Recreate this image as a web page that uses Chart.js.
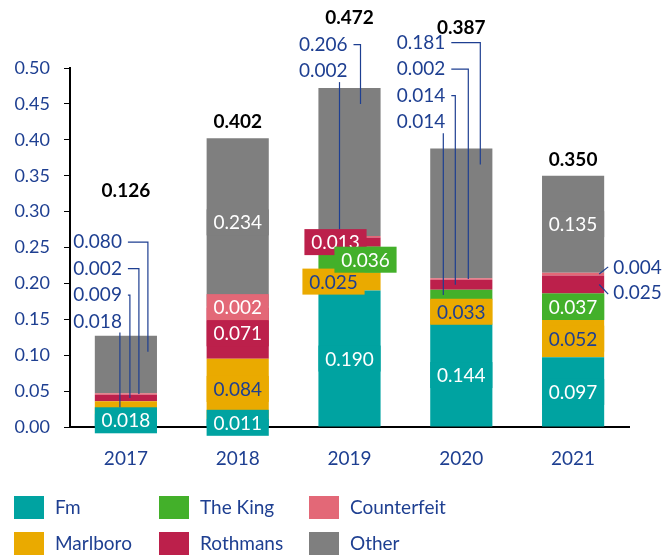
<!DOCTYPE html>
<html>
<head>
<meta charset="utf-8">
<script src="https://cdn.jsdelivr.net/npm/chart.js@4.4.0/dist/chart.umd.min.js"></script>
<style>
  html, body { margin: 0; padding: 0; background: #fff; }
  #wrap { width: 669px; height: 557px; }
</style>
</head>
<body>
<div id="wrap"><canvas id="chart" width="669" height="557"></canvas></div>
<script>
// dữ liệu
const years = ['2017', '2018', '2019', '2020', '2021'];
const fm = [0.018, 0.011, 0.190, 0.144, 0.097];
const marlboro = [0.018, 0.084, 0.025, 0.033, 0.052];
const theKing = [0, 0, 0.036, 0.014, 0.037];
const rothmans = [0.009, 0.071, 0.013, 0.014, 0.025];
const counterfeit = [0.002, 0.002, 0.002, 0.002, 0.004];
const other = [0.080, 0.234, 0.206, 0.181, 0.135];
const totals = [0.126, 0.402, 0.472, 0.387, 0.350];
const yTicks = [0, 0.05, 0.10, 0.15, 0.20, 0.25, 0.30, 0.35, 0.40, 0.45, 0.50];

const BLUE = '#1E3F91';
const FONT = 'Lato, "Noto Sans", sans-serif';
const seriesNames = ['Fm', 'Marlboro', 'The King', 'Rothmans', 'Counterfeit', 'Other'];
const seriesColors = ['#00A3A1', '#EAAA00', '#43B02A', '#BC204B', '#E36877', '#7F7F7F'];
const seriesText = ['#fff', BLUE, '#fff', '#fff', '#fff', '#fff'];

// cách hiển thị nhãn: box (dx), callout (hàng, vị trí đường dẫn), side
const labelMode = [
  [{ t: 'box' }, { t: 'box' }, { t: 'box' }, { t: 'box' }, { t: 'box' }],
  [{ t: 'call', row: 0, lx: -6 }, { t: 'box' }, { t: 'box', dx: -16 }, { t: 'box' }, { t: 'box' }],
  [null, null, { t: 'box', dx: 16 }, { t: 'call', row: 0, lx: -18 }, { t: 'box' }],
  [{ t: 'call', row: 1, lx: 4 }, { t: 'box' }, { t: 'box', dx: -14 }, { t: 'call', row: 1, lx: -6 }, { t: 'side', dy: 8 }],
  [{ t: 'call', row: 2, lx: 13 }, { t: 'box' }, { t: 'call', row: 0, lx: -10 }, { t: 'call', row: 2, lx: 7 }, { t: 'side', dy: -6 }],
  [{ t: 'call', row: 3, lx: 22, top: true }, { t: 'box' }, { t: 'call', row: 1, lx: 11, top: true }, { t: 'call', row: 3, lx: 19, top: true }, { t: 'box' }]
];
const boxOrder = [0, 1, 3, 4, 5, 2]; // The King vẽ sau cùng
const calloutTx = [-4, 0, -2, -16, 0];
const calloutBase = [-15, 0, -17, -27, 0];
const totalDy = [-146, -16, -70, -121, -16];

const labelPlugin = {
  id: 'labelPlugin',
  afterDatasetsDraw(chart) {
    const ctx = chart.ctx;
    const y = chart.scales.y;
    ctx.save();
    ctx.font = '19px ' + FONT;
    ctx.textBaseline = 'middle';

    // đường dẫn callout
    ctx.strokeStyle = BLUE;
    ctx.lineWidth = 1.2;
    chart.data.datasets.forEach((ds, di) => {
      const meta = chart.getDatasetMeta(di);
      meta.data.forEach((bar, i) => {
        const m = labelMode[di][i];
        if (!m || ds.data[i] === 0) return;
        const cx = bar.x;
        const segY = m.top ? bar.y + 16 : (bar.y + bar.base) / 2;
        if (m.t === 'call') {
          const top = y.getPixelForValue(totals[i]);
          const ty = top + calloutBase[i] - m.row * 26.5;
          const tx = cx + calloutTx[i];
          ctx.beginPath();
          if (m.lx > calloutTx[i] + 5) {
            ctx.moveTo(tx + 6, ty);
            ctx.lineTo(cx + m.lx, ty);
            ctx.lineTo(cx + m.lx, segY);
          } else {
            ctx.moveTo(cx + m.lx, ty + 11);
            ctx.lineTo(cx + m.lx, segY);
          }
          ctx.stroke();
          ctx.fillStyle = BLUE;
          ctx.textAlign = 'right';
          ctx.fillText(ds.data[i].toFixed(3), tx, ty);
        } else if (m.t === 'side') {
          const right = cx + bar.width / 2;
          const ty = segY + m.dy;
          ctx.beginPath();
          ctx.moveTo(right - 5, segY);
          ctx.lineTo(right + 4, segY + m.dy * 1.2);
          ctx.stroke();
          ctx.fillStyle = BLUE;
          ctx.textAlign = 'left';
          ctx.fillText(ds.data[i].toFixed(3), right + 9, ty);
        }
      });
    });

    // nhãn dạng hộp
    boxOrder.forEach(di => {
      const ds = chart.data.datasets[di];
      const meta = chart.getDatasetMeta(di);
      meta.data.forEach((bar, i) => {
        const m = labelMode[di][i];
        if (!m || m.t !== 'box' || ds.data[i] === 0) return;
        const cx = bar.x + (m.dx || 0);
        const cy = (bar.y + bar.base) / 2;
        const w = bar.width;
        ctx.fillStyle = seriesColors[di];
        ctx.fillRect(cx - w / 2, cy - 13, w, 26);
        ctx.fillStyle = seriesText[di];
        ctx.textAlign = 'center';
        ctx.fillText(ds.data[i].toFixed(3), cx, cy + 1);
      });
    });

    // tổng
    ctx.font = 'bold 19px ' + FONT;
    ctx.fillStyle = '#000';
    ctx.textAlign = 'center';
    chart.getDatasetMeta(0).data.forEach((bar, i) => {
      const top = y.getPixelForValue(totals[i]);
      ctx.fillText(totals[i].toFixed(3), bar.x, top + totalDy[i]);
    });

    // chú thích
    const cols = [14, 159, 309];
    const rows = [496, 532];
    ctx.font = '19px ' + FONT;
    ctx.textAlign = 'left';
    seriesNames.forEach((name, k) => {
      const c = Math.floor(k / 2), r = k % 2;
      ctx.fillStyle = seriesColors[k];
      ctx.fillRect(cols[c], rows[r], 30, 23);
      ctx.fillStyle = BLUE;
      ctx.fillText(name, cols[c] + 41, rows[r] + 12);
    });
    ctx.restore();
  }
};

const seriesData = [fm, marlboro, theKing, rothmans, counterfeit, other];

new Chart(document.getElementById('chart').getContext('2d'), {
  type: 'bar',
  data: {
    labels: years,
    datasets: seriesData.map((d, k) => ({
      label: seriesNames[k],
      data: d,
      backgroundColor: seriesColors[k],
      borderWidth: 0,
      barPercentage: 0.556,
      categoryPercentage: 1
    }))
  },
  options: {
    responsive: false,
    animation: false,
    layout: { padding: { top: 68, right: 40, left: 0, bottom: 0 } },
    plugins: { legend: { display: false }, tooltip: { enabled: false } },
    scales: {
      x: {
        stacked: true,
        grid: { display: false },
        border: { color: '#000', width: 2 },
        ticks: { color: BLUE, font: { family: FONT, size: 19 }, padding: 12 },
        afterFit(scale) { scale.height = 130; }
      },
      y: {
        stacked: true,
        min: 0,
        max: 0.5,
        afterBuildTicks(scale) { scale.ticks = yTicks.map(v => ({ value: v })); },
        grid: { display: true, drawOnChartArea: false, drawTicks: true, tickLength: 6, color: '#000' },
        border: { color: '#000', width: 2 },
        ticks: {
          color: BLUE,
          font: { family: FONT, size: 18 },
          padding: 14,
          callback: v => v.toFixed(2)
        },
        afterFit(scale) { scale.width = 70; }
      }
    }
  },
  plugins: [labelPlugin]
});
</script>
</body>
</html>
